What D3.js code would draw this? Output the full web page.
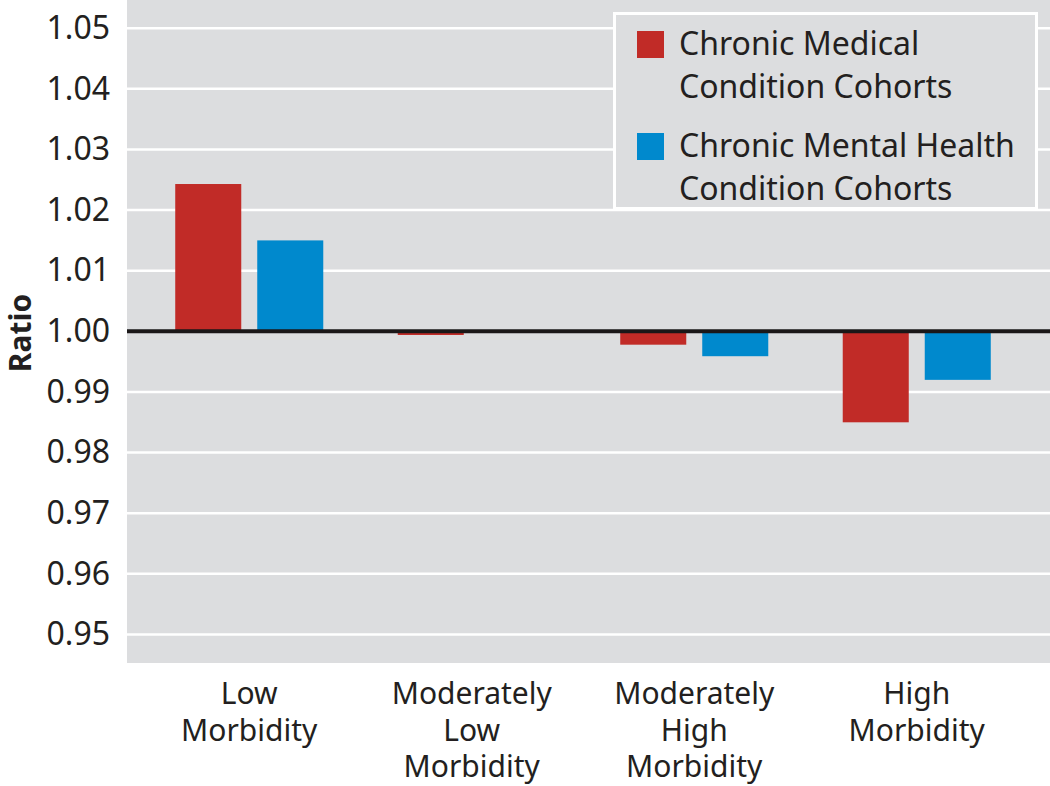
<!DOCTYPE html>
<html>
<head>
<meta charset="utf-8">
<script src="https://cdn.jsdelivr.net/npm/d3@7"></script>
<style>
  html, body { margin: 0; padding: 0; background: #ffffff; }
  svg { display: block; }
  text { font-family: "Noto Sans", "Open Sans", sans-serif; fill: #231f20; }
</style>
</head>
<body>
<svg id="chart" width="1050" height="786"></svg>
<script>
const categories = [["Low", "Morbidity"], ["Moderately", "Low", "Morbidity"], ["Moderately", "High", "Morbidity"], ["High", "Morbidity"]];
const categoryKeys = ["Low Morbidity", "Moderately Low Morbidity", "Moderately High Morbidity", "High Morbidity"];
const seriesNames = ["Chronic Medical Condition Cohorts", "Chronic Mental Health Condition Cohorts"];
const legendLines = [["Chronic Medical", "Condition Cohorts"], ["Chronic Mental Health", "Condition Cohorts"]];
const medicalValues = [1.0243, 0.9994, 0.9978, 0.985];
const mentalValues = [1.015, 1.0, 0.9959, 0.992];
const yTicks = [0.95, 0.96, 0.97, 0.98, 0.99, 1.00, 1.01, 1.02, 1.03, 1.04, 1.05];
const colors = ["#c12b27", "#0089cd"];

const svg = d3.select("#chart");
const plot = { left: 127, right: 1050, top: 0, bottom: 663 };

const y = d3.scaleLinear().domain([0.9453, 1.05465]).range([plot.bottom, plot.top]);
const x0 = d3.scaleBand().domain(categoryKeys).range([138, 1028]).padding(0);
const x1 = d3.scaleBand().domain(seriesNames).range([0, x0.bandwidth()]).paddingInner(0.195).paddingOuter(0.454);

// background
svg.append("rect").attr("x", plot.left).attr("y", plot.top)
  .attr("width", plot.right - plot.left).attr("height", plot.bottom - plot.top)
  .attr("fill", "#dcdddf");

// gridlines
svg.append("g").selectAll("line").data(yTicks.filter(t => t !== 1.0)).join("line")
  .attr("x1", plot.left).attr("x2", plot.right)
  .attr("y1", d => y(d)).attr("y2", d => y(d))
  .attr("stroke", "#ffffff").attr("stroke-width", 2.5);

// y axis labels
const yAxis = d3.axisLeft(y).tickValues(yTicks).tickFormat(d3.format(".2f")).tickSize(0).tickPadding(17);
const ya = svg.append("g").attr("transform", `translate(${plot.left},0)`).call(yAxis);
ya.select(".domain").remove();
ya.selectAll("text").attr("font-size", 32).attr("fill", "#231f20")
  .style("font-family", "'Noto Sans', 'Open Sans', sans-serif");

// bars
const data = categoryKeys.map((c, i) => ({ cat: c, vals: [medicalValues[i], mentalValues[i]] }));
const groups = svg.append("g").selectAll("g").data(data).join("g")
  .attr("transform", d => `translate(${x0(d.cat)},0)`);
groups.selectAll("rect").data(d => d.vals.map((v, j) => ({ v, s: seriesNames[j], j }))).join("rect")
  .attr("x", d => x1(d.s))
  .attr("width", x1.bandwidth())
  .attr("y", d => Math.min(y(d.v), y(1)))
  .attr("height", d => Math.abs(y(d.v) - y(1)))
  .attr("fill", d => colors[d.j]);

// baseline
svg.append("line").attr("x1", plot.left).attr("x2", plot.right)
  .attr("y1", y(1)).attr("y2", y(1))
  .attr("stroke", "#1a1718").attr("stroke-width", 4);

// category labels
const catG = svg.append("g");
categoryKeys.forEach((c, i) => {
  const t = catG.append("text")
    .attr("x", x0(c) + x0.bandwidth() / 2)
    .attr("y", 704)
    .attr("text-anchor", "middle")
    .attr("font-size", 30);
  categories[i].forEach((line, k) => {
    t.append("tspan").attr("x", x0(c) + x0.bandwidth() / 2).attr("dy", k === 0 ? 0 : 36.5).text(line);
  });
});

// y title
svg.append("text")
  .attr("transform", "translate(31,333) rotate(-90)")
  .attr("text-anchor", "middle")
  .attr("font-size", 30).attr("font-weight", "bold")
  .text("Ratio");

// legend
const lg = svg.append("g");
lg.append("rect").attr("x", 614.5).attr("y", 13.5).attr("width", 422).attr("height", 195)
  .attr("fill", "#dcdddf").attr("stroke", "#ffffff").attr("stroke-width", 3);
legendLines.forEach((lines, i) => {
  const top = 31 + i * 102;
  lg.append("rect").attr("x", 637).attr("y", top).attr("width", 27).attr("height", 27)
    .attr("fill", colors[i]);
  const t = lg.append("text").attr("x", 679).attr("y", top + 24).attr("font-size", 32);
  lines.forEach((line, k) => {
    t.append("tspan").attr("x", 679).attr("dy", k === 0 ? 0 : 43).text(line);
  });
});
</script>
</body>
</html>
